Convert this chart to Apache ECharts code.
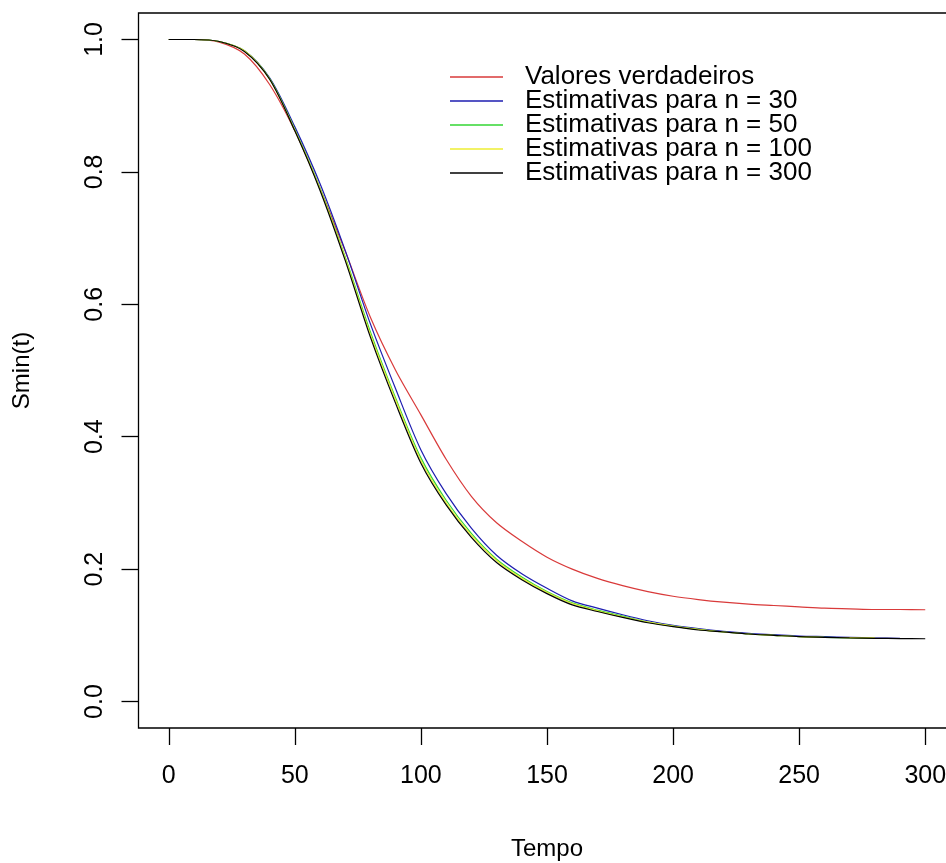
<!DOCTYPE html>
<html>
<head>
<meta charset="utf-8">
<script src="https://cdn.jsdelivr.net/npm/echarts@6/dist/echarts.min.js"></script>
<style>
html,body{margin:0;padding:0;background:#fff;}
#chart{width:946px;height:863px;}
</style>
</head>
<body>
<div id="chart"></div>
<script>
// Time points
const tempo = [0,10,20,30,40,50,60,70,80,90,100,110,120,130,140,150,160,170,180,190,200,210,220,230,240,250,260,270,280,290,300];
// True values
const valoresVerdadeiros = [1,1,0.996,0.978,0.932,0.862,0.775,0.68,0.58,0.50,0.433,0.366,0.31,0.27,0.242,0.218,0.2,0.186,0.175,0.166,0.159,0.154,0.15,0.147,0.145,0.143,0.141,0.140,0.139,0.139,0.1386];
// Estimates n = 30
const est30 = [1,1,0.997,0.983,0.942,0.868,0.782,0.681,0.57,0.472,0.38,0.314,0.262,0.221,0.193,0.171,0.152,0.141,0.131,0.122,0.115,0.11,0.106,0.103,0.101,0.099,0.098,0.097,0.0962,0.0955,null];
// Estimates n = 50
const est50 = [1,1,0.997,0.983,0.941,0.864,0.775,0.671,0.558,0.458,0.368,0.304,0.254,0.215,0.188,0.166,0.149,0.138,0.129,0.12,0.114,0.109,0.105,0.102,0.1,0.098,0.097,0.096,0.0955,null,null];
// Estimates n = 100
const est100 = [1,1,0.997,0.983,0.94,0.863,0.774,0.669,0.554,0.455,0.364,0.3,0.251,0.213,0.186,0.165,0.148,0.137,0.128,0.12,0.114,0.109,0.105,0.102,0.1,0.098,0.097,0.0965,0.096,null,null];
// Estimates n = 300
const est300 = [1,1,0.997,0.982,0.94,0.862,0.772,0.666,0.55,0.45,0.36,0.297,0.248,0.21,0.184,0.163,0.146,0.136,0.127,0.119,0.113,0.108,0.105,0.102,0.1,0.098,0.097,0.096,0.0955,0.095,0.0948];

const xTicks = [0,50,100,150,200,250,300];
const yTicks = [0,0.2,0.4,0.6,0.8,1.0];
const seriesNames = ['Valores verdadeiros','Estimativas para n = 30','Estimativas para n = 50','Estimativas para n = 100','Estimativas para n = 300'];
const seriesColors = ['#d93a3a','#1c1cb0','#33d633','#eeee33','#000000'];
const seriesData = [valoresVerdadeiros, est30, est50, est100, est300];

const FONT = 'Liberation Sans, Arial, sans-serif';
const chart = echarts.init(document.getElementById('chart'), null, {renderer:'canvas'});

function pairs(arr){
  const out = [];
  for (let i=0;i<tempo.length;i++){ if (arr[i]!==null && arr[i]!==undefined) out.push([tempo[i], arr[i]]); }
  return out;
}

const option = {
  animation:false,
  backgroundColor:'#ffffff',
  textStyle:{fontFamily:FONT},
  grid:{left:138.5, top:13, width:817, height:715, show:true, borderColor:'#000', borderWidth:1.3,
        backgroundColor:'transparent', containLabel:false, outerBoundsMode:'none'},
  xAxis:{type:'value', min:-12, max:312, position:'bottom',
     axisLine:{show:false, onZero:false},
     axisTick:{show:true, length:17, inside:false, customValues:xTicks, lineStyle:{color:'#000', width:1.3}},
     splitLine:{show:false}, minorTick:{show:false},
     axisLabel:{show:true, color:'#000', fontSize:25, fontFamily:FONT, margin:36, customValues:xTicks},
     name:'Tempo', nameLocation:'middle', nameGap:109, nameTextStyle:{color:'#000', fontSize:24, fontFamily:FONT}},
  yAxis:{type:'value', min:-0.04, max:1.04, position:'left',
     axisLine:{show:false, onZero:false},
     axisTick:{show:true, length:17, inside:false, customValues:yTicks, lineStyle:{color:'#000', width:1.3}},
     splitLine:{show:false},
     axisLabel:{show:true, color:'#000', fontSize:25, fontFamily:FONT, rotate:90, margin:31, customValues:yTicks, formatter:v=>v.toFixed(1)},
     name:'Smin(t)', nameLocation:'middle', nameGap:104, nameRotate:90, nameTextStyle:{color:'#000', fontSize:24, fontFamily:FONT}},
  legend:{
    orient:'vertical', left:445, top:59, itemWidth:53, itemHeight:1.5, itemGap:-2, icon:'rect',
    textStyle:{color:'#000', fontSize:26, fontFamily:FONT, padding:[0,0,0,17]},
    data:seriesNames.map((nm,i)=>({name:nm, icon:'rect', itemStyle:{color:seriesColors[i]}}))
  },
  series: seriesNames.map((nm,i)=>({
    name:nm, type:'line',
    data:pairs(seriesData[i]), symbol:'none', showSymbol:false,
    smooth:0.3, clip:false,
    lineStyle:{color:seriesColors[i], width:1.2},
    itemStyle:{color:seriesColors[i]},
    emphasis:{disabled:true}
  }))
};
chart.setOption(option);
</script>
</body>
</html>
